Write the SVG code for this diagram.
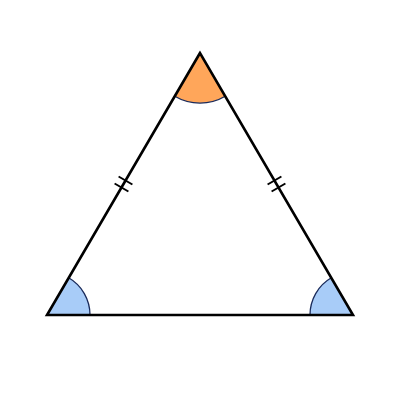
<svg xmlns="http://www.w3.org/2000/svg" width="400" height="400" viewBox="0 0 400 400">
<style>
.arc{fill:none;stroke:#1a2a5a;stroke-width:1.3}
.side{fill:none;stroke:#000;stroke-width:2.6;stroke-linejoin:miter}
.tick{stroke:#000;stroke-width:2;stroke-linecap:butt}
</style>
<rect width="400" height="400" fill="#fff"/>
<g id="angle-apex">
<path d="M200,53 L174.75,96.25 A50,50 0 0 0 225.25,96.25 Z" fill="#FFA65A"/>
<path class="arc" d="M174.75,96.25 A50,50 0 0 0 225.25,96.25"/>
</g>
<g id="angle-left">
<path d="M47,315 L90,315 A43,43 0 0 0 68.7,277.8 Z" fill="#A8CCF8"/>
<path class="arc" d="M90,315 A43,43 0 0 0 68.7,277.8"/>
</g>
<g id="angle-right">
<path d="M353,315 L331.3,277.8 A43,43 0 0 0 310,315 Z" fill="#A8CCF8"/>
<path class="arc" d="M331.3,277.8 A43,43 0 0 0 310,315"/>
</g>
<g id="triangle">
<polygon class="side" points="200,53 47,315 353,315"/>
</g>
<g id="ticks">
<line class="tick" x1="118.6" y1="176.5" x2="132.4" y2="184.5"/>
<line class="tick" x1="114.6" y1="183.5" x2="128.4" y2="191.5"/>
<line class="tick" x1="281.4" y1="176.5" x2="267.6" y2="184.5"/>
<line class="tick" x1="285.4" y1="183.5" x2="271.6" y2="191.5"/>
</g>
</svg>
